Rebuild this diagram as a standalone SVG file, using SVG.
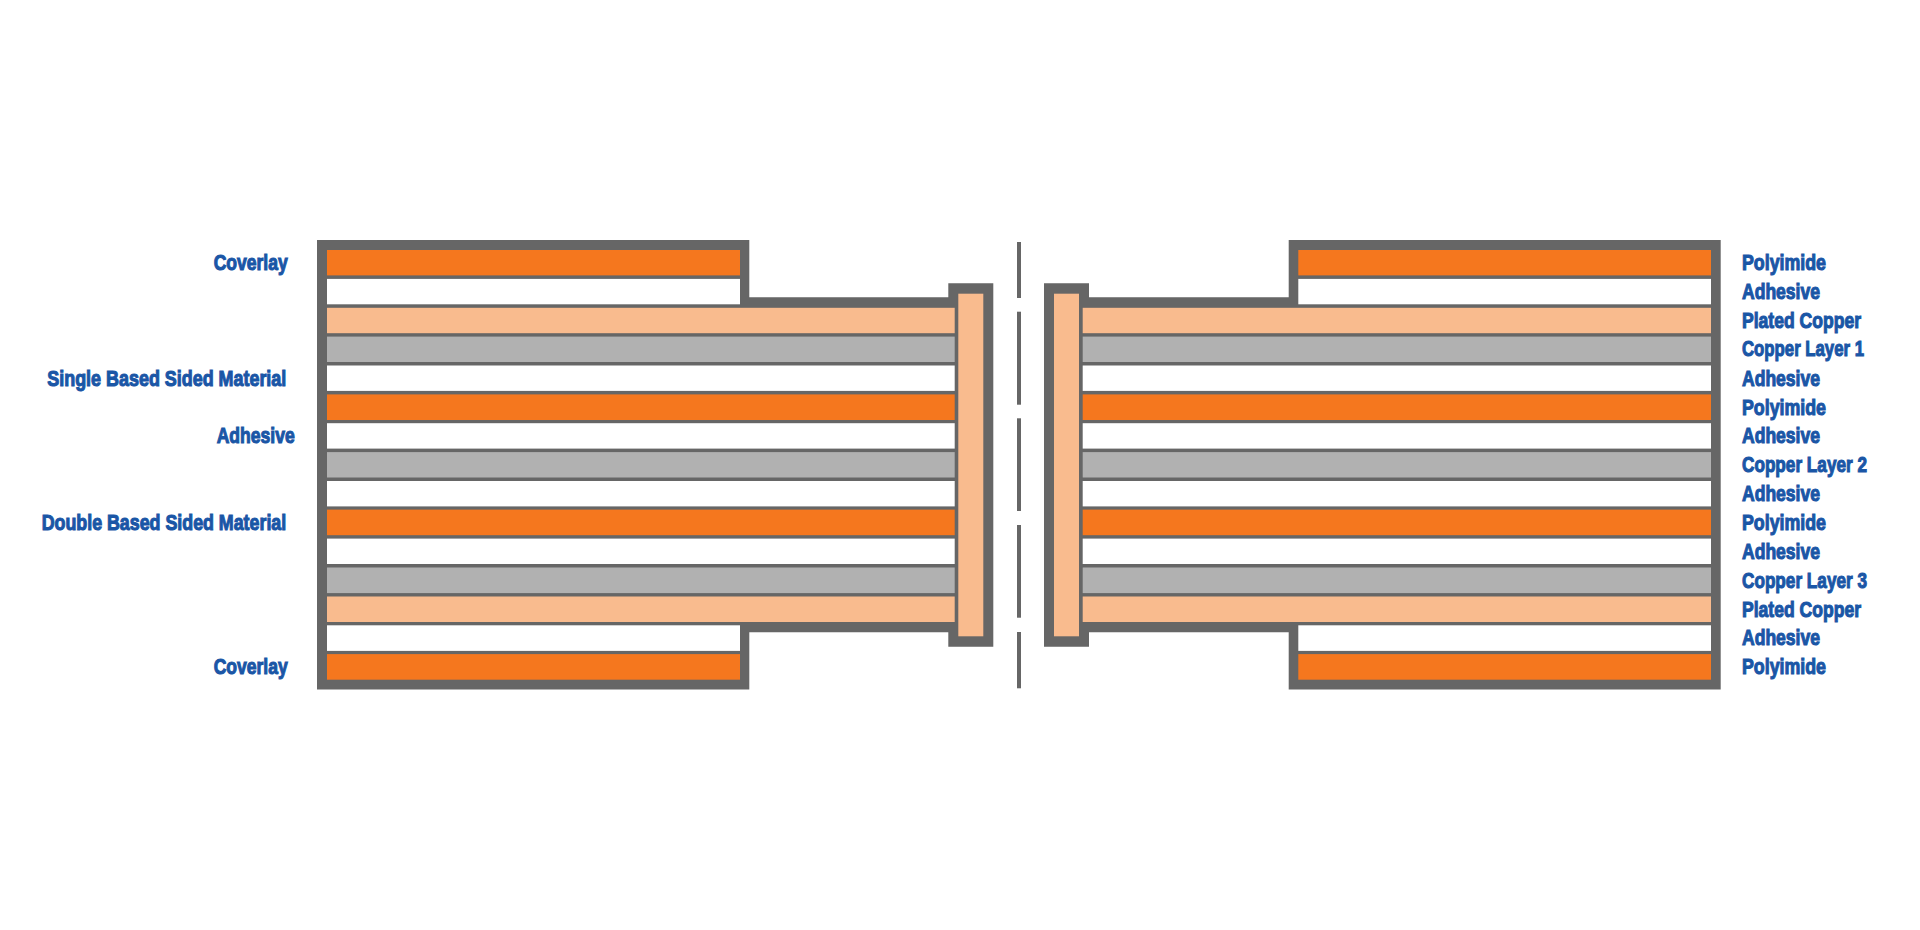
<svg xmlns="http://www.w3.org/2000/svg" width="1920" height="930" viewBox="0 0 1920 930">
<style>
.shell{fill:#666666}
.o{fill:#f5771e}
.w{fill:#ffffff}
.p{fill:#f9bb8e}
.g{fill:#b1b1b1}
.dash{fill:#666666}
text{font-family:"Liberation Sans Narrow","Liberation Sans",Arial,sans-serif;font-weight:700;font-size:22.5px;fill:#1a56a6;stroke:#1a56a6;stroke-width:1.1px}
</style>
<rect class="w" width="1920" height="930"/>
<g id="left-section">
<path class="shell" d="M317 240H749.3V297.3H948.3V283.3H993.3V646.7H948.3V632.3H749.3V689.6H317Z"/>
<rect class="o" x="327" y="250" width="413" height="25.4"/>
<rect class="w" x="327" y="278.9" width="413" height="25.4"/>
<rect class="p" x="327" y="307.8" width="627.7" height="25.4"/>
<rect class="g" x="327" y="336.6" width="627.7" height="25.4"/>
<rect class="w" x="327" y="365.5" width="627.7" height="25.4"/>
<rect class="o" x="327" y="394.4" width="627.7" height="25.6"/>
<rect class="w" x="327" y="423.2" width="627.7" height="25.4"/>
<rect class="g" x="327" y="452.1" width="627.7" height="25.4"/>
<rect class="w" x="327" y="481" width="627.7" height="25.4"/>
<rect class="o" x="327" y="509.6" width="627.7" height="25.6"/>
<rect class="w" x="327" y="538.6" width="627.7" height="25.4"/>
<rect class="g" x="327" y="567.5" width="627.7" height="25.6"/>
<rect class="p" x="327" y="596.5" width="627.7" height="25.5"/>
<rect class="w" x="327" y="625.3" width="413" height="25.6"/>
<rect class="o" x="327" y="654.1" width="413" height="25.6"/>
<rect class="p" x="958.3" y="293.7" width="25" height="342.6"/>
</g>
<g id="right-section">
<path class="shell" d="M1720.7 240H1288.7V297.3H1089V283.3H1044V646.7H1089V632.3H1288.7V689.6H1720.7Z"/>
<rect class="o" x="1298.3" y="250" width="412.7" height="25.4"/>
<rect class="w" x="1298.3" y="278.9" width="412.7" height="25.4"/>
<rect class="p" x="1082.7" y="307.8" width="628.3" height="25.4"/>
<rect class="g" x="1082.7" y="336.6" width="628.3" height="25.4"/>
<rect class="w" x="1082.7" y="365.5" width="628.3" height="25.4"/>
<rect class="o" x="1082.7" y="394.4" width="628.3" height="25.6"/>
<rect class="w" x="1082.7" y="423.2" width="628.3" height="25.4"/>
<rect class="g" x="1082.7" y="452.1" width="628.3" height="25.4"/>
<rect class="w" x="1082.7" y="481" width="628.3" height="25.4"/>
<rect class="o" x="1082.7" y="509.6" width="628.3" height="25.6"/>
<rect class="w" x="1082.7" y="538.6" width="628.3" height="25.4"/>
<rect class="g" x="1082.7" y="567.5" width="628.3" height="25.6"/>
<rect class="p" x="1082.7" y="596.5" width="628.3" height="25.5"/>
<rect class="w" x="1298.3" y="625.3" width="412.7" height="25.6"/>
<rect class="o" x="1298.3" y="654.1" width="412.7" height="25.6"/>
<rect class="p" x="1054" y="293.7" width="25" height="342.6"/>
</g>
<g id="break-line">
<rect class="dash" x="1017" y="242" width="4" height="56"/>
<rect class="dash" x="1017" y="311.7" width="4" height="93"/>
<rect class="dash" x="1017" y="418.3" width="4" height="92.7"/>
<rect class="dash" x="1017" y="525" width="4" height="92.7"/>
<rect class="dash" x="1017" y="632" width="4" height="56.3"/>
</g>
<g id="left-labels">
<text x="213.7" y="269.8" textLength="74" lengthAdjust="spacingAndGlyphs">Coverlay</text>
<text x="47.3" y="385.6" textLength="239" lengthAdjust="spacingAndGlyphs">Single Based Sided Material</text>
<text x="216.7" y="443" textLength="78" lengthAdjust="spacingAndGlyphs">Adhesive</text>
<text x="41.7" y="530" textLength="244.5" lengthAdjust="spacingAndGlyphs">Double Based Sided Material</text>
<text x="213.7" y="673.6" textLength="74" lengthAdjust="spacingAndGlyphs">Coverlay</text>
</g>
<g id="right-labels">
<text x="1742" y="269.8" textLength="84" lengthAdjust="spacingAndGlyphs">Polyimide</text>
<text x="1742" y="298.6" textLength="78" lengthAdjust="spacingAndGlyphs">Adhesive</text>
<text x="1742" y="327.5" textLength="119" lengthAdjust="spacingAndGlyphs">Plated Copper</text>
<text x="1742" y="356.3" textLength="122" lengthAdjust="spacingAndGlyphs">Copper Layer 1</text>
<text x="1742" y="385.7" textLength="78" lengthAdjust="spacingAndGlyphs">Adhesive</text>
<text x="1742" y="414.6" textLength="84" lengthAdjust="spacingAndGlyphs">Polyimide</text>
<text x="1742" y="443" textLength="78" lengthAdjust="spacingAndGlyphs">Adhesive</text>
<text x="1742" y="471.8" textLength="125" lengthAdjust="spacingAndGlyphs">Copper Layer 2</text>
<text x="1742" y="500.7" textLength="78" lengthAdjust="spacingAndGlyphs">Adhesive</text>
<text x="1742" y="530" textLength="84" lengthAdjust="spacingAndGlyphs">Polyimide</text>
<text x="1742" y="558.8" textLength="78" lengthAdjust="spacingAndGlyphs">Adhesive</text>
<text x="1742" y="587.7" textLength="125" lengthAdjust="spacingAndGlyphs">Copper Layer 3</text>
<text x="1742" y="616.5" textLength="119" lengthAdjust="spacingAndGlyphs">Plated Copper</text>
<text x="1742" y="645.4" textLength="78" lengthAdjust="spacingAndGlyphs">Adhesive</text>
<text x="1742" y="673.6" textLength="84" lengthAdjust="spacingAndGlyphs">Polyimide</text>
</g>
</svg>
